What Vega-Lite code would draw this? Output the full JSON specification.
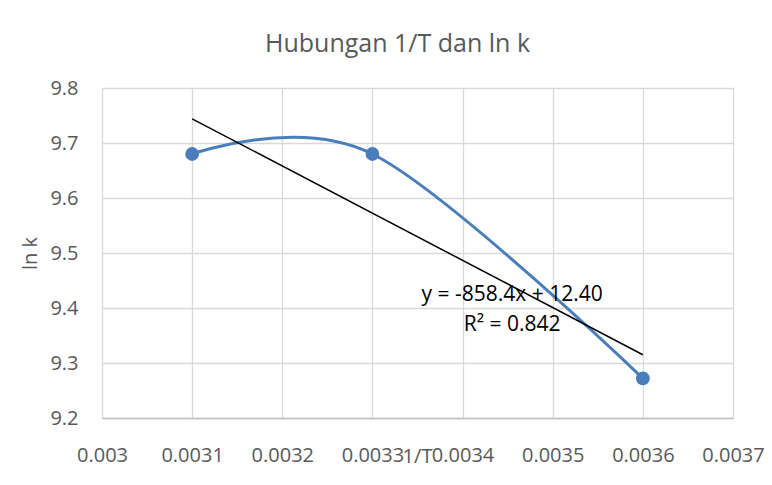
{
  "$schema": "https://vega.github.io/schema/vega-lite/v6.json",
  "autosize": "none",
  "width": 631,
  "height": 330,
  "padding": {"left": 102, "top": 88, "right": 39, "bottom": 67},
  "background": "white",
  "title": {
    "text": "Hubungan 1/T dan ln k",
    "font": "Open Sans",
    "fontSize": 25,
    "fontWeight": "normal",
    "color": "#595959",
    "anchor": "middle",
    "frame": "group",
    "dx": -20,
    "offset": 21
  },
  "config": {
    "view": {"stroke": null},
    "font": "Open Sans",
    "axis": {
      "labelFont": "Open Sans",
      "labelFontSize": 20,
      "labelColor": "#595959",
      "labelOverlap": false,
      "labelFlush": false,
      "titleFont": "Open Sans",
      "titleFontSize": 20,
      "titleFontWeight": "normal",
      "titleColor": "#595959",
      "gridColor": "#d9d9d9",
      "gridWidth": 1.3,
      "ticks": false
    }
  },
  "datasets": {
    "obs": [
      {"x": 0.0031, "y": 9.68},
      {"x": 0.0033, "y": 9.68},
      {"x": 0.0036, "y": 9.272}
    ],
    "trend": [
      {"x": 0.0031, "y": 9.744},
      {"x": 0.0036, "y": 9.315}
    ],
    "notes": [
      {"x": 0.003455, "y": 9.424, "label": "y = -858.4x + 12.40"},
      {"x": 0.003455, "y": 9.369, "label": "R² = 0.842"}
    ]
  },
  "layer": [
    {
      "data": {"name": "obs"},
      "mark": {"type": "line", "interpolate": "cardinal", "color": "#4a7ebb", "strokeWidth": 3},
      "encoding": {
        "x": {
          "field": "x", "type": "quantitative",
          "scale": {"domain": [0.003, 0.0037], "nice": false, "zero": false},
          "axis": {
            "values": [0.003, 0.0031, 0.0032, 0.0033, 0.0034, 0.0035, 0.0036, 0.0037],
            "format": "~g",
            "labelPadding": 27,
            "labelAlign": "center",
            "domainColor": "#bfbfbf",
            "domainWidth": 1.5,
            "title": "1/T",
            "titleX": 315,
            "titleY": 44,
            "titleBaseline": "alphabetic",
            "titleAlign": "center"
          }
        },
        "y": {
          "field": "y", "type": "quantitative",
          "scale": {"domain": [9.2, 9.8], "nice": false, "zero": false},
          "axis": {
            "values": [9.2, 9.3, 9.4, 9.5, 9.6, 9.7, 9.8],
            "format": ".1f",
            "labelPadding": 24,
            "domain": false,
            "title": "ln k",
            "titleX": -72,
            "titleY": 165,
            "titleAngle": 270,
            "titleAlign": "center",
            "titleBaseline": "middle"
          }
        }
      }
    },
    {
      "data": {"name": "obs"},
      "mark": {"type": "point", "filled": true, "opacity": 1, "color": "#4a7ebb", "size": 190},
      "encoding": {
        "x": {"field": "x", "type": "quantitative"},
        "y": {"field": "y", "type": "quantitative"}
      }
    },
    {
      "data": {"name": "trend"},
      "mark": {"type": "line", "color": "#000000", "strokeWidth": 1.5},
      "encoding": {
        "x": {"field": "x", "type": "quantitative"},
        "y": {"field": "y", "type": "quantitative"}
      }
    },
    {
      "data": {"name": "notes"},
      "mark": {"type": "text", "font": "Open Sans", "fontSize": 21, "color": "#000000", "align": "center", "baseline": "middle"},
      "encoding": {
        "x": {"field": "x", "type": "quantitative"},
        "y": {"field": "y", "type": "quantitative"},
        "text": {"field": "label"}
      }
    }
  ]
}
